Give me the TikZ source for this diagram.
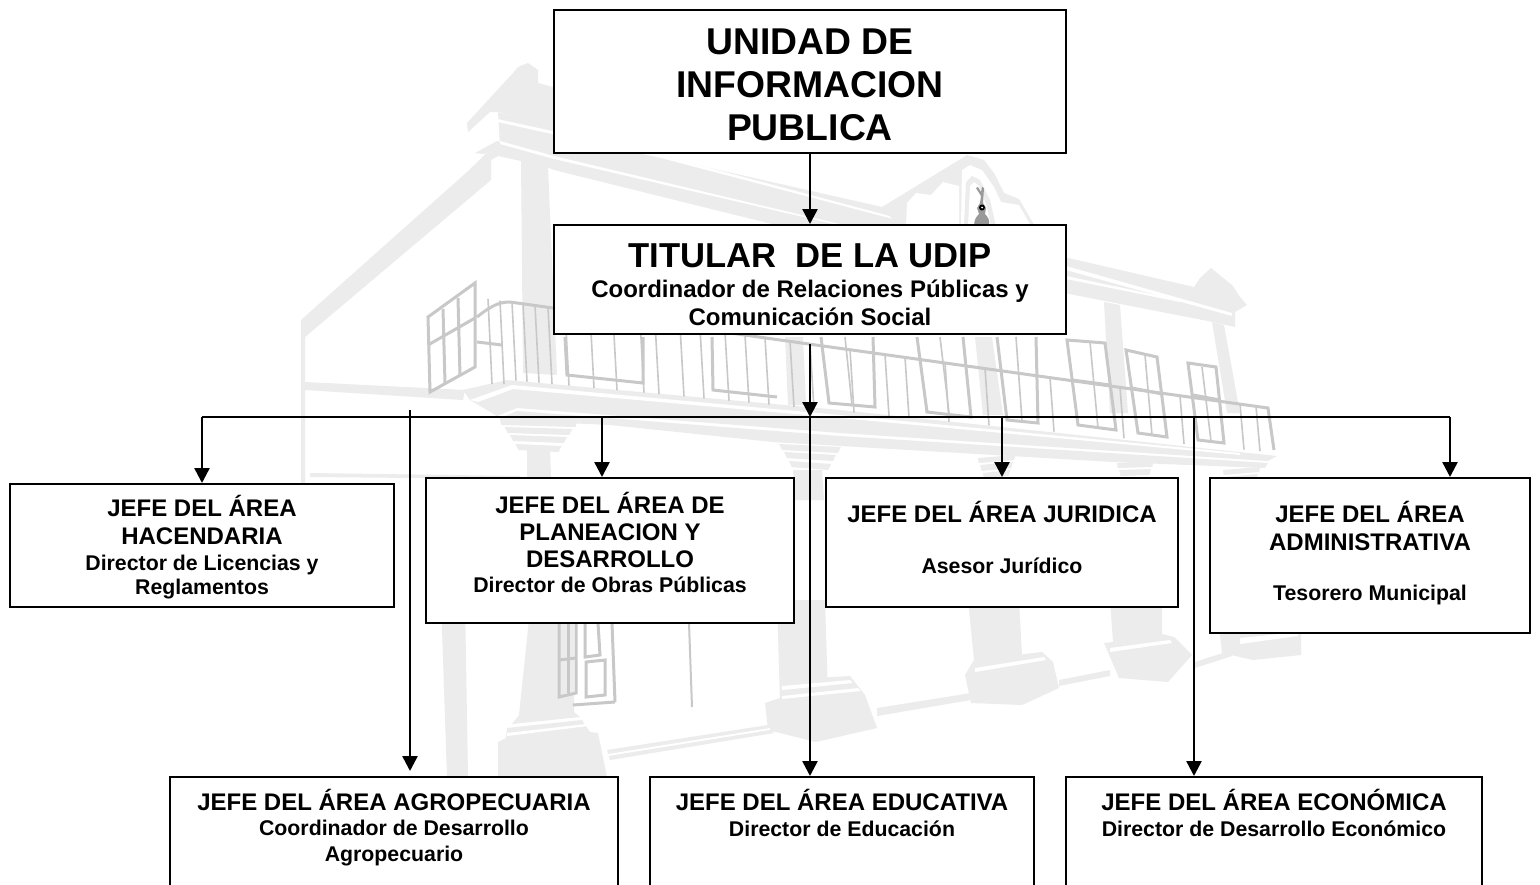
\documentclass[tikz,border=0pt]{standalone}
\usepackage{fontspec}
\setmainfont{Liberation Sans}
\usetikzlibrary{arrows.meta}
\definecolor{bga}{HTML}{ECECEC}
\definecolor{bgb}{HTML}{C8C8C8}
\newcommand{\titlefont}{\fontsize{37.3}{43}\selectfont\bfseries}
\newcommand{\subtfont}{\fontsize{34.6}{38}\selectfont\bfseries}
\newcommand{\coordfont}{\fontsize{24}{28}\selectfont\bfseries}
\newcommand{\jefefont}{\fontsize{24}{28}\selectfont\bfseries}
\newcommand{\jefetightfont}{\fontsize{24}{27}\selectfont\bfseries}
\newcommand{\dirfont}{\fontsize{21.3}{24}\selectfont\bfseries}
\newcommand{\dirwidefont}{\fontsize{21.3}{26}\selectfont\bfseries}
\tikzset{
  x=1pt,y=-1pt,
  box/.style={draw=black,fill=white,line width=2pt,inner sep=0pt},
  txt/.style={align=center,inner sep=0pt,text=black},
  wall/.style={fill=bga,draw=none},
  gap/.style={fill=white,draw=none},
  frame/.style={draw=bgb,line width=3pt,fill=none,line join=miter},
  thinframe/.style={draw=bgb,line width=1.6pt},
  link/.style={draw=black,line width=2pt},
  arrowlink/.style={draw=black,line width=2.5pt,-{Triangle[width=15pt,length=15pt]}}
}
\begin{document}
\begin{tikzpicture}
\useasboundingbox (0,0) rectangle (1540,884);
\fill[white] (0,0) rectangle (1540,884);
% ---------- left wing roof
\fill[wall] (301,320) -- (467,172) -- (492,148) -- (500,143) -- (553,157) -- (553,168) -- (548,168) -- (521,161) -- (498,156) -- (491,160) -- (491,180) -- (305,337) -- (305,530) -- (301,530) -- cycle;
% top of tower
\fill[wall] (467,123) -- (513,73) -- (518,67) -- (528,63) -- (538,70) -- (538,83) -- (560,89) -- (560,132) -- (500,112) -- (490,112) -- (468,132) -- cycle;
\fill[gap] (490,118) -- (555,135) -- (555,139) -- (490,124) -- (472,137) -- (468,134) -- cycle;
\fill[wall] (475,153) -- (497,141) -- (555,157) -- (555,161) -- (500,148) -- (484,154) -- cycle;
% main cornice
\fill[wall] (498,112) -- (644,153) -- (882,207) -- (897,217) -- (897,226) -- (780,226) -- (554,170) -- (500,146) -- cycle;
\fill[gap] (493,118) -- (661,155) -- (897,218) -- (897,220) -- (661,158) -- (493,121) -- cycle;
\fill[gap] (500,141) -- (554,156) -- (848,226) -- (842,226) -- (554,159) -- (500,144) -- cycle;
% wing column and ledges
\fill[wall] (521,160) -- (548,168) -- (557,375) -- (523,373) -- cycle;
\fill[wall] (305,382) -- (465,390) -- (463,400) -- (305,390) -- cycle;
\fill[wall] (310,473) -- (520,476) -- (520,479) -- (310,477) -- cycle;
% gable
\fill[wall] (882,207) -- (964,157) -- (967,155) -- (984,160) -- (994,173) -- (1004,193) -- (1019,199) -- (1036,228) -- (900,228) -- cycle;
\fill[gap] (906,226) -- (907,203) -- (916,193) -- (931,195) -- (943,182) -- (959,186) -- (959,226) -- cycle;
\fill[gap] (961,226) -- (962,170) -- (970,165) -- (982,170) -- (994,187) -- (1001,202) -- (1019,205) -- (1031,226) -- cycle;
\fill[wall] (964,226) -- (966,182) -- (972,176) -- (980,180) -- (990,200) -- (996,226) -- cycle;
\fill[gap] (968,226) -- (970,186) -- (974,182) -- (979,186) -- (986,204) -- (991,226) -- cycle;
% right cornice
\fill[wall] (1064,257) -- (1194,287) -- (1200,278) -- (1211,268) -- (1222,277) -- (1232,285) -- (1240,297) -- (1247,305) -- (1235,312) -- (1235,327) -- (1213,322) -- (1064,293) -- cycle;
\fill[gap] (1066,266) -- (1232,313) -- (1232,316) -- (1066,270) -- cycle;
\fill[gap] (1066,276) -- (1180,300) -- (1180,302) -- (1066,279) -- cycle;
% upper floor columns
\fill[wall] (1104,302) -- (1120,305) -- (1128,413) -- (1110,413) -- cycle;
\fill[wall] (1212,322) -- (1224,325) -- (1240,413) -- (1227,413) -- cycle;
\fill[wall] (785,337) -- (803,337) -- (806,405) -- (788,405) -- cycle;
\fill[wall] (975,337) -- (992,337) -- (1003,415) -- (983,415) -- cycle;
% ---------- balcony slab
\fill[wall] (463,390) -- (507,380) -- (840,410) -- (1277,456) -- (1268,461) -- (840,433) -- (517,408) -- (497,416) -- (470,400) -- cycle;
\fill[gap] (470,400) -- (512,385) -- (840,415) -- (1240,453) -- (1240,455) -- (840,418) -- (513,389) -- (478,402) -- cycle;
\fill[wall] (500,418) -- (517,411) -- (840,436) -- (1268,463) -- (1265,468) -- (1113,462) -- (773,442) -- (610,425) -- (500,420) -- cycle;
% capitals
\foreach \a/\b/\c/\d in {500/420/577/422,775/437/845/440,978/458/1015/455,1117/463/1153/462,1223/470/1260/467}{
  \pgfmathsetmacro{\w}{\c-\a}
  \fill[wall] (\a,\b) -- (\c,\d) -- (\c-0.02*\w,\d+5) -- (\a+0.02*\w,\b+5) -- cycle;
  \fill[wall] (\a+0.06*\w,\b+7) -- (\c-0.06*\w,\d+7) -- (\c-0.1*\w,\d+13) -- (\a+0.1*\w,\b+13) -- cycle;
  \fill[wall] (\a+0.13*\w,\b+15) -- (\c-0.13*\w,\d+15) -- (\c-0.17*\w,\d+21) -- (\a+0.17*\w,\b+21) -- cycle;
  \fill[wall] (\a+0.2*\w,\b+24) -- (\c-0.2*\w,\d+24) -- (\c-0.24*\w,\d+30) -- (\a+0.24*\w,\b+30) -- cycle;
}
\fill[wall] (527,450) -- (550,450) -- (552,500) -- (527,500) -- cycle;
\fill[wall] (793,470) -- (822,470) -- (824,500) -- (795,500) -- cycle;
% lower columns and plinths
\fill[wall] (441,600) -- (465,600) -- (468,777) -- (447,777) -- cycle;
\fill[wall] (531,600) -- (574,600) -- (574,713) -- (519,715) -- cycle;
\fill[wall] (777,600) -- (825,600) -- (828,695) -- (780,703) -- cycle;
\fill[wall] (968,600) -- (1019,600) -- (1022,655) -- (974,660) -- cycle;
\fill[wall] (1110,600) -- (1162,600) -- (1162,635) -- (1113,642) -- cycle;
\fill[wall] (1219,625) -- (1301,625) -- (1301,655) -- (1253,660) -- (1222,653) -- cycle;
% plinth 1
\fill[wall] (519,715) -- (574,712) -- (580,717) -- (512,724) -- cycle;
\fill[wall] (507,728) -- (582,720) -- (590,732) -- (598,733) -- (607,777) -- (498,777) -- (498,742) -- (506,738) -- cycle;
\fill[gap] (507,733) -- (586,724) -- (588,726) -- (507,736) -- cycle;
% plinth 2
\fill[wall] (780,680) -- (850,676) -- (865,695) -- (877,728) -- (816,742) -- (768,730) -- (765,703) -- (780,698) -- cycle;
\fill[gap] (782,686) -- (850,680) -- (853,683) -- (782,690) -- cycle;
\fill[gap] (782,696) -- (858,688) -- (861,691) -- (782,699) -- cycle;
% plinth 3
\fill[wall] (974,660) -- (1042,652) -- (1053,662) -- (1059,688) -- (1022,705) -- (971,703) -- (965,675) -- cycle;
\fill[gap] (975,668) -- (1044,657) -- (1046,660) -- (975,672) -- cycle;
% plinth 4
\fill[wall] (1113,642) -- (1162,634) -- (1174,637) -- (1192,655) -- (1168,682) -- (1119,678) -- (1104,643) -- cycle;
\fill[gap] (1110,648) -- (1170,640) -- (1172,643) -- (1110,652) -- cycle;
\fill[gap] (1240,638) -- (1298,632) -- (1298,636) -- (1240,644) -- cycle;
% base strips
\fill[wall] (607,750) -- (768,725) -- (774,733) -- (610,760) -- cycle;
\fill[gap] (608,754) -- (770,728) -- (770,730) -- (608,756) -- cycle;
\fill[wall] (877,708) -- (971,693) -- (971,700) -- (877,716) -- cycle;
\fill[wall] (1059,680) -- (1110,670) -- (1110,676) -- (1059,686) -- cycle;
\fill[wall] (1195,662) -- (1232,650) -- (1232,656) -- (1195,668) -- cycle;
% ---------- windows
\draw[frame] (430,392) -- (428,317) -- (475,283) -- (475,367) -- cycle;
\draw[frame] (428,345) -- (475,318) (443,309) -- (445,383) (458,298) -- (460,376);
\draw[frame] (565,337) -- (567,375) -- (643,383) -- (643,337);
\draw[frame] (712,337) -- (713,390) -- (777,397);
\draw[frame] (821,337) -- (829,403) -- (875,407) -- (873,337);
\draw[frame] (917,337) -- (927,412) -- (971,417) -- (963,337);
\draw[frame] (997,337) -- (1007,420) -- (1038,423) -- (1036,337);
\draw[frame] (1067,340) -- (1078,425) -- (1116,430) -- (1105,343) -- cycle;
\draw[frame] (1126,350) -- (1138,433) -- (1167,437) -- (1157,357) -- cycle;
\draw[frame] (1188,363) -- (1198,440) -- (1224,443) -- (1216,367) -- cycle;
\draw[frame] (1072,380) -- (1110,385) (1132,388) -- (1162,394) (1193,395) -- (1220,400);
\draw[thinframe] (845,337) -- (852,405) (940,337) -- (949,413) (1016,337) -- (1022,421) (1090,342) -- (1098,428) (1145,355) -- (1152,435) (1202,367) -- (1211,441);
% balcony rail
\draw[frame] (477,317) .. controls (492,305) and (500,302) .. (510,302) -- (553,308) -- (780,340) -- (1268,408) -- (1274,450);
\draw[frame] (477,342) -- (502,345);
\foreach \x in {488,500,512,523,535,548,565,590,613,640,655,680,700,725,745,765,790,810,850,885,905,945,985,1050,1120,1180,1240,1256}{
  \draw[thinframe] (\x,{308+0.14*(\x-553)}) -- (\x+4,{(\x<510 ? 384 : 380+0.095*(\x-507))});
}
% door below
\draw[frame] (559,623) -- (559,697) -- (576,693) -- (576,623);
\draw[frame] (568,623) -- (568,693);
\draw[frame] (559,660) -- (576,658);
\draw[frame] (598,623) -- (600,655) -- (585,657) -- (585,623);
\draw[frame] (586,662) -- (605,660) -- (605,695) -- (586,697) -- cycle;
\draw[frame] (573,705) -- (615,702);
\draw[frame] (612,623) -- (615,702);
\draw[draw=bgb,line width=2pt] (689,623) -- (692,707);
% rabbit
\fill[black!40] (974,226) .. controls (974,219) and (977,216) .. (979,214) -- (977,208) -- (980,203) -- (981,196) -- (976,188) -- (978,187) -- (981,192) -- (982,187) -- (984,188) -- (983,203) -- (986,208) -- (985,214) .. controls (988,217) and (990,220) .. (989,226) -- cycle;
\fill[black] (982,207.5) circle (3);
\fill[white] (982,207.5) circle (1);
% ---------- boxes
\node[box,minimum width=512pt,minimum height=143pt] (uip) at (810,81.5) {};
\node[box,minimum width=512pt,minimum height=109pt] (tit) at (810,279.5) {};
\node[box,minimum width=384pt,minimum height=123pt] (hac) at (202,545.5) {};
\node[box,minimum width=368pt,minimum height=145pt] (pla) at (610,550.5) {};
\node[box,minimum width=352pt,minimum height=129pt] (jur) at (1002,542.5) {};
\node[box,minimum width=320pt,minimum height=155pt] (adm) at (1370,555.5) {};
\node[box,minimum width=448pt,minimum height=140pt] (agr) at (394,847) {};
\node[box,minimum width=384pt,minimum height=140pt] (edu) at (842,847) {};
\node[box,minimum width=416pt,minimum height=140pt] (eco) at (1274,847) {};
% ---------- texts
\node[txt,font=\titlefont] (tuip) at (810,85) {UNIDAD DE\\INFORMACION\\PUBLICA};
\node[txt,font=\subtfont] (ttit) at (810,256) {TITULAR~ DE LA UDIP};
\node[txt,font=\coordfont] (ttit2) at (810,303) {Coordinador de Relaciones Públicas y\\Comunicación Social};
\node[txt,font=\jefefont] (thac) at (202,520) {JEFE DEL ÁREA\\HACENDARIA};
\node[txt,font=\dirfont] (thac2) at (202,577.5) {Director de Licencias y\\Reglamentos};
\node[txt,font=\jefetightfont] (tpla) at (610,529.5) {JEFE DEL ÁREA DE\\PLANEACION Y\\DESARROLLO};
\node[txt,font=\dirfont] (tpla2) at (610,585) {Director de Obras Públicas};
\node[txt,font=\jefefont] (tjur) at (1002,512) {JEFE DEL ÁREA JURIDICA};
\node[txt,font=\dirfont] (tjur2) at (1002,566) {Asesor Jurídico};
\node[txt,font=\jefefont] (tadm) at (1370,526) {JEFE DEL ÁREA\\ADMINISTRATIVA};
\node[txt,font=\dirfont] (tadm2) at (1370,595) {Tesorero Municipal};
\node[txt,font=\jefefont] (tagr) at (394,800) {JEFE DEL ÁREA AGROPECUARIA};
\node[txt,font=\dirwidefont] (tagr2) at (394,843) {Coordinador de Desarrollo\\Agropecuario};
\node[txt,font=\jefefont] (tedu) at (842,800) {JEFE DEL ÁREA EDUCATIVA};
\node[txt,font=\dirfont] (tedu2) at (842,829) {Director de Educación};
\node[txt,font=\jefefont] (teco) at (1274,800) {JEFE DEL ÁREA ECONÓMICA};
\node[txt,font=\dirfont] (teco2) at (1274,829) {Director de Desarrollo Económico};
% ---------- connectors
\coordinate (start) at (810,344);
\coordinate (busL) at (202,417);
\coordinate (busC) at (810,417);
\coordinate (busR) at (1450,417);
\coordinate (bPla) at (602,417);
\coordinate (bJur) at (1002,417);
\coordinate (bEco) at (1194,417);
\coordinate (agrTop) at (410,410);
\coordinate (agrEnd) at (410,771);
\draw[arrowlink] (uip.south) -- (tit.north);
\draw[arrowlink] (start) -- (busC);
\draw[link] (busL) -- (busR);
\draw[arrowlink] (busL) -- (hac.north);
\draw[arrowlink] (bPla) -- (bPla |- pla.north);
\draw[arrowlink] (bJur) -- (bJur |- jur.north);
\draw[arrowlink] (busR) -- (busR |- adm.north);
\draw[arrowlink] (agrTop) -- (agrEnd);
\draw[arrowlink] (busC) -- (busC |- edu.north);
\draw[arrowlink] (bEco) -- (bEco |- eco.north);
\end{tikzpicture}
\end{document}
